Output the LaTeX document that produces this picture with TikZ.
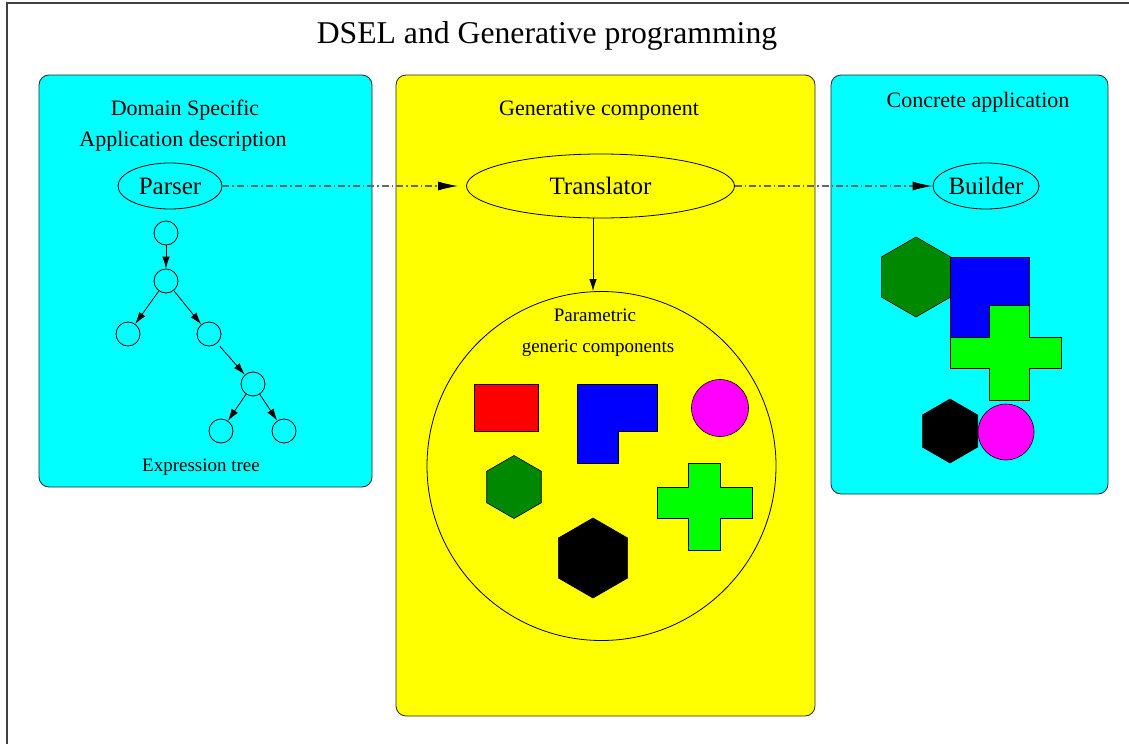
\documentclass[tikz,border=0pt]{standalone}
\usepackage{fontspec}
\setmainfont{Liberation Serif}
\usetikzlibrary{arrows.meta,shapes.geometric}
\definecolor{dgreen}{RGB}{0,136,0}
\definecolor{cy}{RGB}{0,255,255}
\definecolor{ye}{RGB}{255,255,0}
\definecolor{mg}{RGB}{255,0,255}
\definecolor{rd}{RGB}{255,0,0}
\definecolor{bl}{RGB}{0,0,255}
\definecolor{gr}{RGB}{0,255,0}
\begin{document}
\begin{tikzpicture}[x=1pt,y=-1pt,
  panel/.style={draw=black!85, rounded corners=10pt, line width=0.8pt},
  ell/.style={ellipse, draw, line width=0.8pt, inner sep=0pt, font=\fontsize{25}{30}\selectfont},
  tnode/.style={circle, draw, minimum size=24pt, inner sep=0pt, line width=0.8pt},
  tarrow/.style={-{Latex[length=12pt,width=7.5pt]}, line width=0.8pt},
  dd/.style={-{Latex[length=20pt,width=9pt,color=black]}, draw=black!60, line width=1.1pt, dash pattern=on 7pt off 3pt on 1.5pt off 3pt},
  hex/.style={regular polygon, regular polygon sides=6, shape border rotate=30, draw, inner sep=0pt, line width=0.6pt},
  shp/.style={draw, line width=0.6pt},
  lbl/.style={anchor=base, inner sep=0pt},
  ttl/.style={lbl, font=\fontsize{22}{26}\selectfont},
  sml/.style={lbl, font=\fontsize{19}{22}\selectfont}
]
\useasboundingbox (0,0) rectangle (1129,744);
% frame
\draw[draw=black!75, line width=1.5pt] (7,744) -- (7,3) -- (1129,3);
\node[lbl, font=\fontsize{31.7}{36}\selectfont] (title) at (547,43.5) {DSEL and Generative programming};

% panels
\filldraw[panel, fill=cy] (39,75) rectangle (372,487);
\filldraw[panel, fill=ye] (396,75) rectangle (815,716);
\filldraw[panel, fill=cy] (831,75) rectangle (1108,494);

% left panel
\node[ttl] (dsl1) at (185,115) {Domain Specific};
\node[ttl] (dsl2) at (183,146) {Application description};
\node[ell, minimum width=104pt, minimum height=46pt] (parser) at (170,186) {Parser};

\node[tnode] (n1) at (166,233) {};
\node[tnode] (n2) at (166,281) {};
\node[tnode] (n3) at (128,334) {};
\node[tnode] (n4) at (209,334) {};
\node[tnode] (n5) at (253,384) {};
\node[tnode] (n6) at (221,431) {};
\node[tnode] (n7) at (284,431) {};
\draw[tarrow] (n1) -- (n2);
\draw[tarrow] (n2) -- (n3);
\draw[tarrow] (n2) -- (n4);
\draw[tarrow, shorten <=4pt] (n4) -- (n5);
\draw[tarrow] (n5) -- (n6);
\draw[tarrow] (n5) -- (n7);
\node[sml] (etree) at (201,471) {Expression tree};

% middle panel
\node[ttl] (gen) at (599,115) {Generative component};
\node[ell, minimum width=268pt, minimum height=64pt, fill=ye] (trans) at (600.5,186) {Translator};
\node[circle, draw, line width=0.8pt, minimum size=349pt, inner sep=0pt] (bigc) at (601.5,466) {};
\draw[tarrow] ([xshift=-7.5pt]trans.south) -- ([xshift=-8.5pt]bigc.north);
\node[sml] (par1) at (595,321) {Parametric};
\node[sml] (par2) at (598,352) {generic components};

\filldraw[shp, fill=rd] (474,384) rectangle (538,431);
\filldraw[shp, fill=bl] (577,384) -- (657,384) -- (657,431) -- (618,431) -- (618,463) -- (577,463) -- cycle;
\node[circle, shp, fill=mg, minimum size=57pt, inner sep=0pt] (mc1) at (720,408) {};
\node[hex, fill=dgreen, minimum size=63pt] (gh1) at (514,487) {};
\node[hex, fill=black, minimum size=80pt] (bh1) at (593,558) {};
\filldraw[shp, fill=gr] (688,463) -- (720,463) -- (720,487) -- (752,487) -- (752,518) -- (720,518) -- (720,550) -- (688,550) -- (688,518) -- (657,518) -- (657,487) -- (688,487) -- cycle;

% right panel
\node[ttl] (conc) at (978,107) {Concrete application};
\node[ell, minimum width=102pt, minimum height=46pt] (builder) at (986,186) {Builder};
\node[hex, fill=dgreen, minimum size=80pt] (gh2) at (916,277) {};
\filldraw[shp, fill=bl] (950,257) rectangle (1029,337);
\filldraw[shp, fill=gr] (989,305) -- (1029,305) -- (1029,337) -- (1061,337) -- (1061,368) -- (1029,368) -- (1029,400) -- (989,400) -- (989,368) -- (950,368) -- (950,337) -- (989,337) -- cycle;
\node[hex, fill=black, minimum size=64pt] (bh2) at (950,431) {};
\node[circle, shp, fill=mg, minimum size=56pt, inner sep=0pt] (mc2) at (1006,432) {};

% dash-dot connectors
\draw[dd, shorten >=8pt] (parser.east) -- (trans.west);
\draw[dd] (trans.east) -- (builder.west);
\end{tikzpicture}
\end{document}
